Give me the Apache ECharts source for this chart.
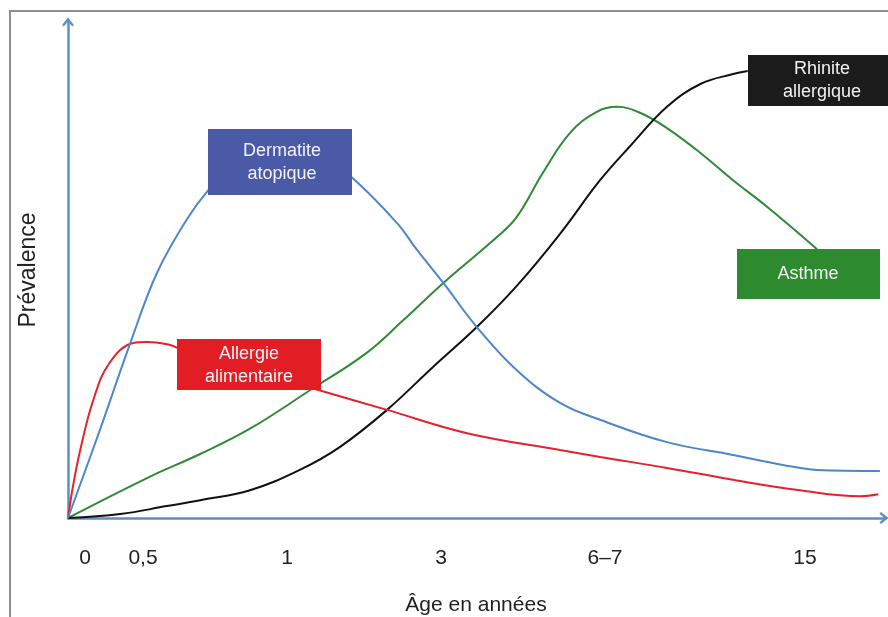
<!DOCTYPE html>
<html>
<head>
<meta charset="utf-8">
<script src="https://cdn.jsdelivr.net/npm/echarts@6/dist/echarts.min.js"></script>
<style>
html,body{margin:0;padding:0;background:#fff;}
#chart{width:888px;height:617px;}
</style>
</head>
<body>
<div id="chart"></div>
<script>
// Age axis: relative position (0-100) of each tick label, and the labels
var tickPositions = [2.08, 9.19, 26.84, 45.71, 65.81, 90.32];
var tickLabels = ['0', '0,5', '1', '3', '6–7', '15'];

// [age position, prevalence] pairs (0-100 scales)
var dermatite = [[0,0],[3.9,17.7],[7.6,35.1],[10.9,49.4],[14.6,60.3],[17.2,66.1],[20.6,71.8],[26.0,74.6],[30.9,73.2],[34.9,68.5],[40.3,59.5],[42.8,54.0],[46.0,47.4],[50.1,38.5],[55.0,29.8],[60.3,23.2],[65.2,19.8],[73.4,15.3],[81.5,12.7],[87.6,10.7],[91.8,9.7],[99.5,9.5]];
var allergie = [[0,0],[0.6,6.3],[1.5,13.7],[3.1,23.8],[5.1,31.3],[8.0,35.3],[9.7,35.5],[12.5,34.9],[13.4,34.3],[22.3,30.0],[31.1,25.6],[39.1,21.8],[48.9,17.1],[60.3,13.7],[65.2,12.3],[73.4,10.1],[81.5,7.7],[89.7,5.6],[97.1,4.4],[99.3,4.8]];
var asthme = [[0,0],[10.0,8.3],[16.2,12.9],[22.3,18.0],[29.7,25.8],[36.6,33.3],[41.1,39.9],[46.0,47.4],[52.6,56.7],[55.0,60.7],[58.2,69.6],[61.5,77.6],[64.8,81.9],[67.3,82.9],[70.1,81.7],[73.4,78.6],[77.5,73.6],[81.5,68.1],[85.7,62.7],[91.8,54.2]];
var rhinite = [[0,0],[6.4,0.8],[12.1,2.4],[16.2,3.6],[22.3,5.6],[28.4,9.7],[33.3,14.3],[39.1,21.8],[44.7,30.4],[50.1,38.5],[55.0,46.8],[60.3,57.3],[65.2,68.1],[68.9,75.0],[73.4,82.9],[77.5,87.5],[81.5,89.5],[83.3,90.1]];

var seriesNames = ['Dermatite\natopique', 'Allergie\nalimentaire', 'Asthme', 'Rhinite\nallergique'];

var FONT = '"Liberation Sans", Arial, sans-serif';
var AXIS_COLOR = '#5b8fc9';
var CHEVRON = 'path://M5,0L10,6.4L8.6,7.6L5,3.4L1.4,7.6L0,6.4Z';

function lineSeries(data, color) {
  return {
    type: 'line', data: data, showSymbol: false, symbol: 'none',
    smooth: 0.4,
    lineStyle: {color: color, width: 2}, z: 3
  };
}

function box(x, y, w, h, fill, label, cx, cy) {
  return [
    {type: 'rect', z: 100, shape: {x: x, y: y, width: w, height: h}, style: {fill: fill}},
    {type: 'text', z: 101, x: cx, y: cy, style: {text: label, fill: '#f2f2f6', font: '18px ' + FONT, align: 'center', verticalAlign: 'middle', lineHeight: 23}}
  ];
}

var chart = echarts.init(document.getElementById('chart'), null, {renderer: 'canvas'});
chart.setOption({
  backgroundColor: '#ffffff',
  animation: false,
  grid: {left: 68, right: 4, top: 22, bottom: 99, outerBoundsMode: 'none', containLabel: false},
  xAxis: {
    type: 'value', min: 0, max: 100,
    name: 'Âge en années', nameLocation: 'middle', nameGap: 77,
    nameTextStyle: {fontFamily: FONT, fontSize: 21, color: '#222'},
    axisLine: {show: true, symbol: ['none', CHEVRON], symbolSize: [12, 9], lineStyle: {color: AXIS_COLOR, width: 2.5}},
    axisTick: {show: false},
    splitLine: {show: false},
    axisLabel: {
      customValues: tickPositions, margin: 30,
      fontFamily: FONT, fontSize: 21, color: '#222',
      formatter: function (v) {
        for (var i = 0; i < tickPositions.length; i++) {
          if (Math.abs(tickPositions[i] - v) < 1e-6) return tickLabels[i];
        }
        return '';
      }
    }
  },
  yAxis: {
    type: 'value', min: 0, max: 100,
    name: 'Prévalence', nameLocation: 'middle', nameGap: 28, nameRotate: 90,
    nameTextStyle: {fontFamily: FONT, fontSize: 23, color: '#222'},
    axisLine: {show: true, symbol: ['none', CHEVRON], symbolSize: [12, 9], lineStyle: {color: AXIS_COLOR, width: 2.5}},
    axisTick: {show: false},
    splitLine: {show: false},
    axisLabel: {show: false}
  },
  series: [
    Object.assign(lineSeries(asthme, '#2f8a38'), {name: seriesNames[2]}),
    Object.assign(lineSeries(rhinite, '#111111'), {name: seriesNames[3]}),
    Object.assign(lineSeries(allergie, '#e3222b'), {name: seriesNames[1]}),
    Object.assign(lineSeries(dermatite, '#4d87c7'), {name: seriesNames[0]})
  ],
  graphic: [
    {type: 'rect', z: 0, silent: true, shape: {x: 10, y: 11, width: 900, height: 700}, style: {fill: 'none', stroke: '#8e8e8e', lineWidth: 2}}
  ].concat(
    box(208, 129, 144, 66, '#4a5aa7', seriesNames[0], 282, 163),
    box(177, 339, 144, 51, '#e21d23', seriesNames[1], 249, 366),
    box(737, 249, 143, 50, '#2e8a2e', seriesNames[2], 808, 274),
    box(748, 55, 150, 51, '#1b1b1b', seriesNames[3], 822, 81)
  )
});
</script>
</body>
</html>
